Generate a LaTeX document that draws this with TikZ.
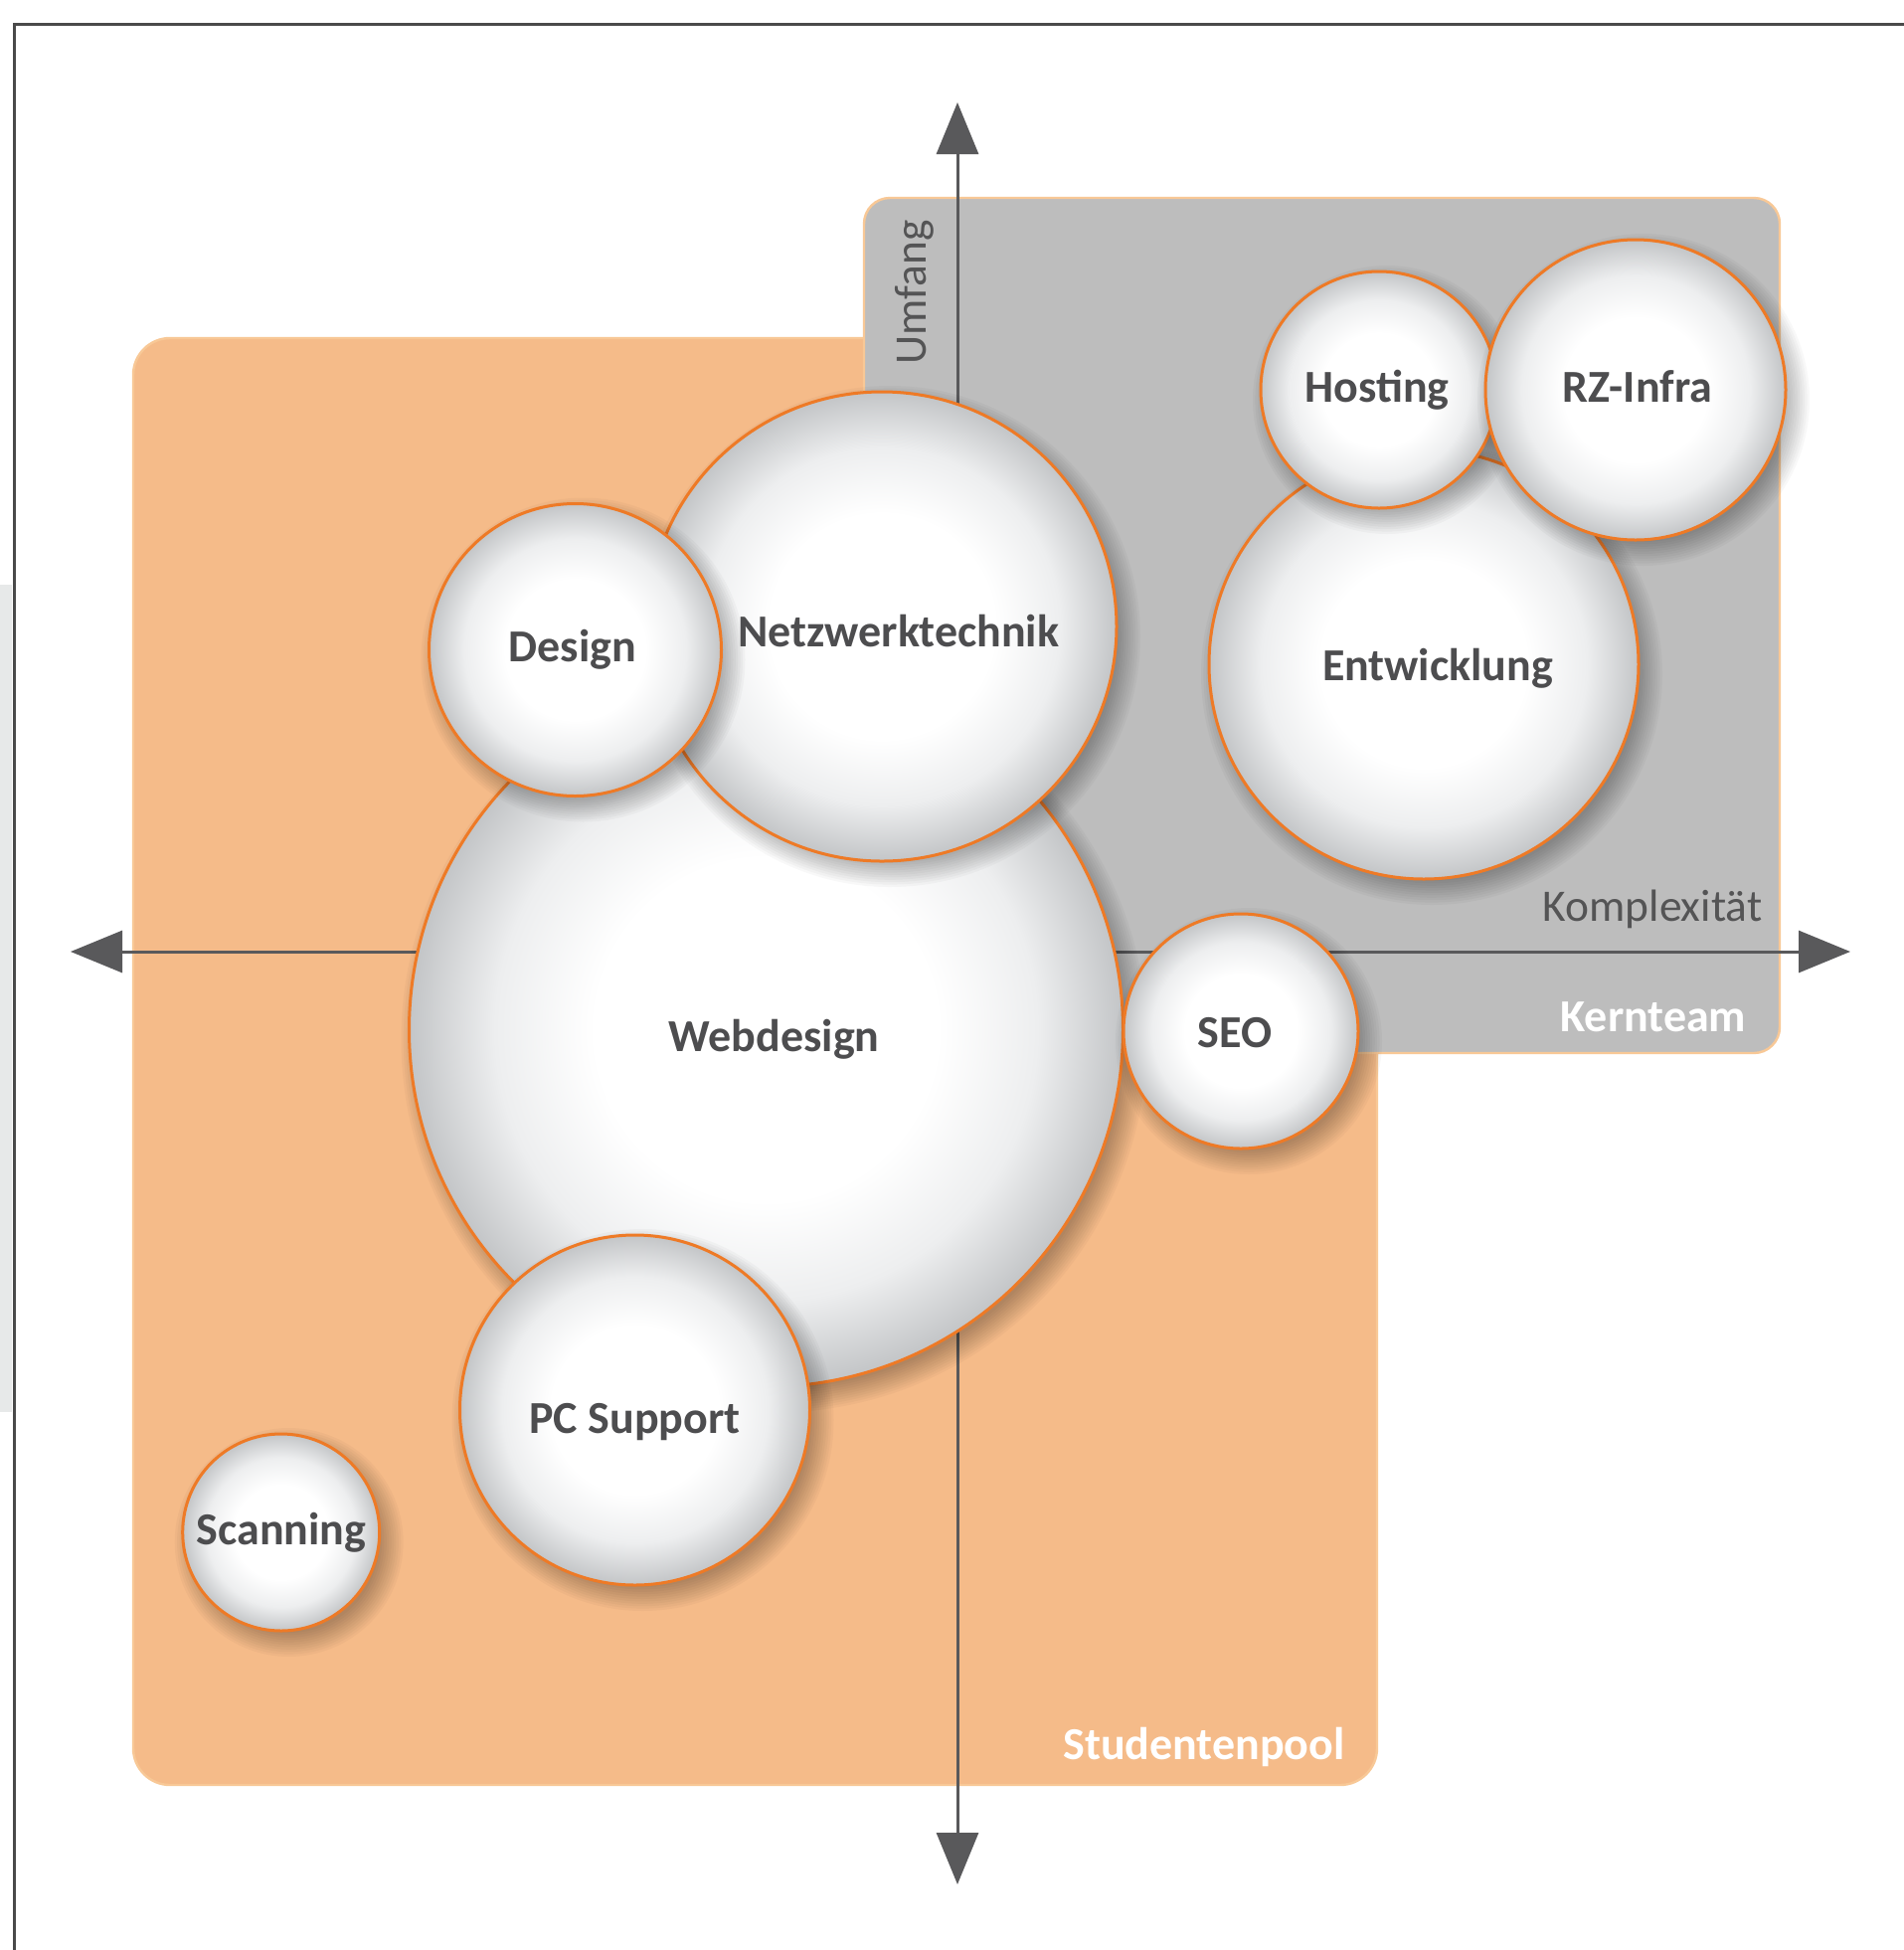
\documentclass[tikz,border=0pt]{standalone}
\usepackage{fontspec}
\setmainfont{Carlito}
\usetikzlibrary{arrows.meta}
\definecolor{orfill}{HTML}{F5BB89}
\definecolor{orborder}{HTML}{F8C896}
\definecolor{grfill}{HTML}{BDBDBD}
\definecolor{ringcol}{HTML}{EE7A26}
\definecolor{axiscol}{HTML}{59595B}
\definecolor{txtcol}{HTML}{4D4D4F}
\definecolor{axtxt}{HTML}{545455}
\definecolor{framecol}{HTML}{4A4A4A}
\definecolor{stripcol}{HTML}{E7E9E9}
\definecolor{ballmid}{HTML}{EDEEEF}
\definecolor{balledge}{HTML}{C3C5C7}
\pgfdeclareradialshading{ball}{\pgfpoint{0bp}{0bp}}{color(0bp)=(white); color(12bp)=(white); color(19bp)=(ballmid); color(25bp)=(balledge); color(50bp)=(balledge)}
\newcommand{\ballshadow}[3]{%
  \foreach \k in {0,...,10}{\fill[black, opacity=0.026] (#1+8,#2+10) circle[radius=#3-8+2.4*\k];}}
\tikzset{
  bubble/.style={circle, inner sep=0pt, outer sep=0pt, shading=ball, draw=ringcol, line width=1.5pt, minimum size=#1},
  blabel/.style={font=\fontsize{23}{27}\bfseries\selectfont, text=txtcol, anchor=base, inner sep=0pt},
  axlabel/.style={font=\fontsize{22.7}{27}\selectfont, text=axtxt, anchor=base, inner sep=0pt},
  grouplabel/.style={font=\fontsize{23}{27}\bfseries\selectfont, text=white, anchor=base, inner sep=0pt},
  axis/.style={draw=axiscol, line width=1.5pt, {Triangle[length=26pt, width=21pt]}-{Triangle[length=26pt, width=21pt]}, fill=axiscol}
}
\begin{document}
\begin{tikzpicture}[x=0.5pt, y=-0.5pt]
\useasboundingbox (0,0) rectangle (1915,1961);
\fill[white] (0,0) rectangle (1915,1961);
\fill[stripcol] (0,588) rectangle (12,1420);
\draw[framecol, line width=1.5pt] (14,1961) -- (14,24) -- (1915,24);

% group areas
\filldraw[fill=orfill, draw=orborder, line width=1.2pt, rounded corners=18.5pt] (134,340) rectangle (1385,1795);
\filldraw[fill=grfill, draw=orborder, line width=1.2pt, rounded corners=13pt] (869,199) rectangle (1790,1059);

\node[grouplabel] (kern) at (1663,1037) {Kernteam};
\node[grouplabel] (stud) at (1211,1769) {Studentenpool};
\node[axlabel] (kompl) at (1662,926) {Komplexität};
\node[axlabel, rotate=90] (umf) at (931,294) {Umfang};

% axes
\coordinate (xl) at (71,957);
\coordinate (xr) at (1861,957);
\coordinate (yt) at (963,103);
\coordinate (yb) at (963,1895);
\draw[axis] (xl) -- (xr);
\draw[axis] (yb) -- (yt);

% bubbles
\ballshadow{770.5}{1035.6}{359}
\node[bubble=359pt] (web) at (770.5,1035.6) {};
\ballshadow{887}{630}{236}
\node[bubble=236pt] (netz) at (887,630) {};
\ballshadow{578.5}{653.5}{147}
\node[bubble=147pt] (des) at (578.5,653.5) {};
\ballshadow{638.5}{1418}{176}
\node[bubble=176pt] (pc) at (638.5,1418) {};
\ballshadow{1248}{1037}{118}
\node[bubble=118pt] (seo) at (1248,1037) {};
\ballshadow{282.7}{1541}{99}
\node[bubble=99pt] (scan) at (282.7,1541) {};
\ballshadow{1432}{668}{216}
\node[bubble=216pt] (entw) at (1432,668) {};
\ballshadow{1387}{392}{119}
\node[bubble=119pt] (host) at (1387,392) {};
\ballshadow{1645}{392}{151}
\node[bubble=151pt] (rz) at (1645,392) {};

% labels
\node[blabel] (webL) at (778.6,1057) {Webdesign};
\node[blabel] (netzL) at (904,650) {Netzwerktechnik};
\node[blabel] (desL) at (576,665) {Design};
\node[blabel] (pcL) at (638.5,1441) {PC Support};
\node[blabel] (seoL) at (1242,1053) {SEO};
\node[blabel] (scanL) at (283,1553) {Scanning};
\node[blabel] (entwL) at (1446,684) {Entwicklung};
\node[blabel] (hostL) at (1385,404) {Hosting};
\node[blabel] (rzL) at (1647,404) {RZ-Infra};
\end{tikzpicture}
\end{document}
